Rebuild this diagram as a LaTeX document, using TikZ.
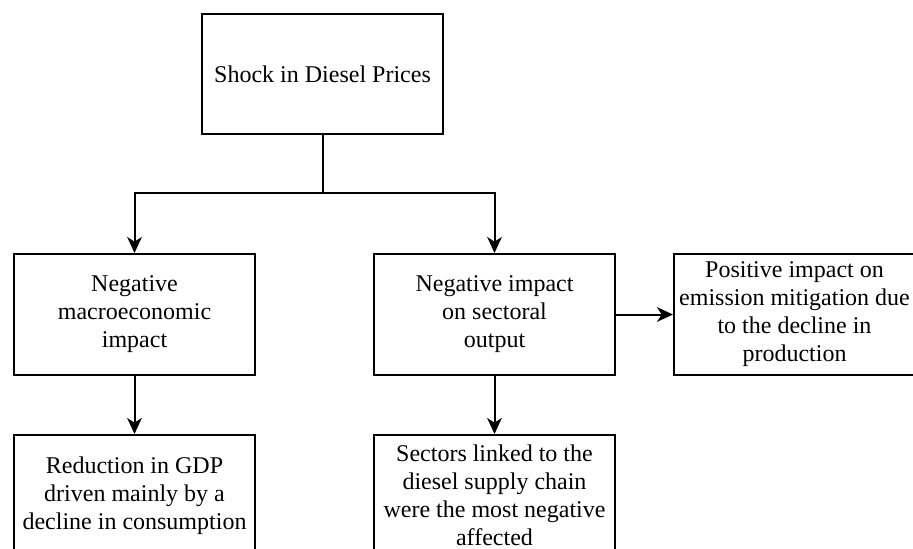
\documentclass[tikz,border=0pt]{standalone}
\usepackage{fontspec}
\setmainfont{Liberation Serif}
\newfontfamily\boxfont{Liberation Serif}
\usetikzlibrary{arrows.meta}
\begin{document}
\begin{tikzpicture}[x=0.75pt,y=-0.75pt,
  box/.style={draw, line width=1.5pt, minimum width=180.75pt, minimum height=90.75pt,
    inner sep=0pt, align=center, font=\boxfont\fontsize{18}{21}\selectfont, anchor=north west},
  conn/.style={line width=1.5pt},
  arr/.style={conn, -{Stealth[length=12pt,width=11pt,inset=3.5pt]}}]
\clip (0,0) rectangle (913,549);
\node[box, minimum height=90pt] (shock) at (201,13) {Shock in Diesel Prices};
\node[box] (macro) at (13,253) {Negative\\macroeconomic\\impact};
\node[box] (sect) at (373,253) {Negative impact\\on sectoral\\output};
\node[box] (pos) at (673,253) {Positive impact on\\emission mitigation due\\to the decline in\\production};
\node[box] (gdp) at (13,434) {Reduction in GDP\\driven mainly by a\\decline in consumption};
\node[box] (chain) at (373,434) {Sectors linked to the\\diesel supply chain\\were the most negative\\affected};
\coordinate (split) at (shock.south |- 0,193);
\draw[conn] (shock.south) -- (split);
\draw[arr] (split) -| (macro.north);
\draw[arr] (split) -| (sect.north);
\draw[arr] (sect.east) -- (pos.west);
\draw[arr] (macro.south) -- (gdp.north);
\draw[arr] (sect.south) -- (chain.north);
\end{tikzpicture}
\end{document}
